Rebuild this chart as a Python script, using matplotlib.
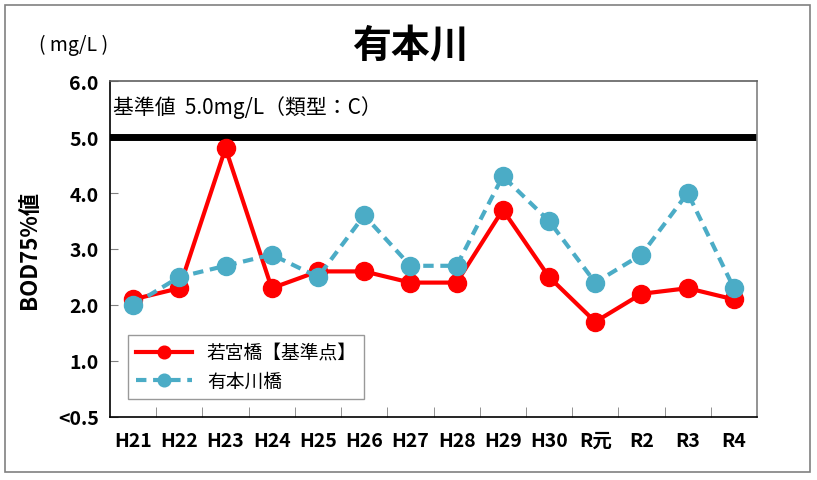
import matplotlib
matplotlib.use("Agg")
import matplotlib.pyplot as plt
from matplotlib.patches import Rectangle

plt.rcParams['font.family'] = ['Noto Sans CJK JP', 'DejaVu Sans']

years = ["H21", "H22", "H23", "H24", "H25", "H26", "H27",
         "H28", "H29", "H30", "R元", "R2", "R3", "R4"]
wakamiya = [2.1, 2.3, 4.8, 2.3, 2.6, 2.6, 2.4, 2.4, 3.7, 2.5, 1.7, 2.2, 2.3, 2.1]
arimoto = [2.0, 2.5, 2.7, 2.9, 2.5, 3.6, 2.7, 2.7, 4.3, 3.5, 2.4, 2.9, 4.0, 2.3]
y_ticks = [0, 1, 2, 3, 4, 5, 6]
y_labels = ["<0.5", "1.0", "2.0", "3.0", "4.0", "5.0", "6.0"]
standard = 5.0

fig = plt.figure(figsize=(8.17, 4.81), dpi=100)
ax = fig.add_axes([0.1346, 0.131, 0.792, 0.6985])

x = list(range(len(years)))

ax.plot(x, wakamiya, color='#FF0000', lw=3, marker='o', ms=13,
        label='若宮橋【基準点】', zorder=3)
blue, = ax.plot(x, arimoto, color='#4BACC6', lw=3, marker='o', ms=13,
                linestyle='--', label='有本川橋', zorder=4)
blue.set_dashes([2.5, 1.6])

ax.axhline(standard, color='black', lw=5, zorder=2)
ax.text(0.005, 0.923, '基準値  5.0mg/L（類型：C）', transform=ax.transAxes,
        fontsize=15, va='center', ha='left')

ax.set_xlim(-0.5, len(years) - 0.5)
ax.set_ylim(0, 6)

ax.set_yticks(y_ticks)
ax.set_yticklabels(y_labels, fontsize=14, fontweight='bold')
ax.set_xticks(x)
ax.set_xticklabels(years, fontsize=14, fontweight='bold')
ax.tick_params(axis='x', length=0, pad=10)
ax.tick_params(axis='y', direction='in', length=6, color='#808080', pad=8)
ax.set_xticks([i + 0.5 for i in x[:-1]], minor=True)
ax.tick_params(axis='x', which='minor', direction='in', length=7,
               color='#808080')

ax.spines['left'].set_color('black')
ax.spines['bottom'].set_color('black')
ax.spines['top'].set_color('#606060')
ax.spines['right'].set_color('#808080')
for s in ax.spines.values():
    s.set_linewidth(1.2)

ax.set_ylabel('BOD75%値', fontsize=16, fontweight='bold', labelpad=12)

leg = ax.legend(loc='lower left', bbox_to_anchor=(0.028, 0.054),
                borderaxespad=0, fontsize=13.5, markerscale=0.7,
                handlelength=3.0, frameon=True, fancybox=False,
                edgecolor='#808080', borderpad=0.4, labelspacing=0.35)
leg.get_frame().set_linewidth(1.0)

fig.text(0.502, 0.905, '有本川', fontsize=28, fontweight='bold',
         ha='center', va='center')
fig.text(0.048, 0.905, '( mg/L )', fontsize=14,
         ha='left', va='center')

fig.patches.append(Rectangle((0.006, 0.017), 0.985, 0.971,
                             transform=fig.transFigure, fill=False,
                             edgecolor='#808080', lw=1.2))

fig.savefig('out.png', dpi=100)
